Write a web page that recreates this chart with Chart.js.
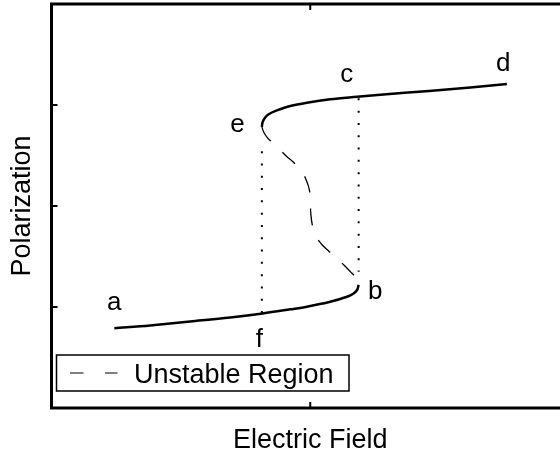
<!DOCTYPE html>
<html>
<head>
<meta charset="utf-8">
<script src="https://cdn.jsdelivr.net/npm/chart.js@4.4.1/dist/chart.umd.min.js"></script>
<style>
  html, body { margin: 0; padding: 0; background: #fff; overflow: hidden; }
</style>
</head>
<body>
<canvas id="chart" width="569" height="460"></canvas>
<script>
// S-shaped polarization curve (axis units: x 0..2, y 0..4)
const lowerX = [0.243, 0.381, 0.536, 0.691, 0.816, 0.923, 0.987, 1.077, 1.142, 1.166, 1.181, 1.187];
const lowerY = [0.789, 0.817, 0.856, 0.896, 0.936, 0.977, 1.003, 1.052, 1.102, 1.131, 1.168, 1.218];

const upperX = [0.813, 0.816, 0.826, 0.841, 0.871, 0.923, 0.987, 1.077, 1.181, 1.271, 1.459, 1.619, 1.760];
const upperY = [2.782, 2.832, 2.876, 2.911, 2.946, 2.990, 3.023, 3.057, 3.082, 3.102, 3.139, 3.173, 3.208];

// unstable middle branch, from e down to b
const unstableX = [0.813, 0.822, 0.837, 0.858, 0.884, 0.910, 0.932, 0.951, 0.971, 0.987, 0.996, 1.000,
                   1.001, 1.002, 1.008, 1.023, 1.043, 1.067, 1.109, 1.132, 1.155, 1.174, 1.187];
const unstableY = [2.782, 2.723, 2.668, 2.621, 2.554, 2.488, 2.441, 2.389, 2.327, 2.241, 2.168, 2.092,
                   2.010, 1.928, 1.812, 1.696, 1.624, 1.564, 1.465, 1.411, 1.350, 1.297, 1.218];

// vertical jump lines e->f and b->c
const jumpLeftX = [0.813, 0.813];
const jumpLeftY = [0.94, 2.637];
const jumpRightX = [1.187, 1.187];
const jumpRightY = [3.066, 1.35];

const pointNames = ['a', 'b', 'c', 'd', 'e', 'f'];
const pointNameX = [0.242, 1.251, 1.141, 1.746, 0.719, 0.803];
const pointNameY = [0.970, 1.079, 3.231, 3.340, 2.736, 0.607];

const xTicks = [1];
const yTicks = [1, 2, 3];

const FONT = '"Liberation Sans", Arial, Helvetica, sans-serif';

const toPoints = (xs, ys) => xs.map((x, i) => ({ x: x, y: ys[i] }));

// frame, inward ticks, point names and legend box
const decorations = {
  id: 'decorations',
  afterDraw(chart) {
    const ctx = chart.ctx;
    const area = chart.chartArea;
    const xs = chart.scales.x;
    const ys = chart.scales.y;

    ctx.save();
    ctx.strokeStyle = '#000';
    ctx.lineWidth = 2;
    xTicks.forEach(v => {
      const px = xs.getPixelForValue(v);
      ctx.beginPath();
      ctx.moveTo(px, area.bottom);
      ctx.lineTo(px, area.bottom - 6);
      ctx.moveTo(px, area.top);
      ctx.lineTo(px, area.top + 6);
      ctx.stroke();
    });
    yTicks.forEach(v => {
      const py = ys.getPixelForValue(v);
      ctx.beginPath();
      ctx.moveTo(area.left, py);
      ctx.lineTo(area.left + 6, py);
      ctx.moveTo(area.right, py);
      ctx.lineTo(area.right - 6, py);
      ctx.stroke();
    });

    ctx.lineWidth = 3;
    ctx.strokeRect(area.left, area.top, area.right - area.left, area.bottom - area.top);

    ctx.fillStyle = '#000';
    ctx.font = '26px ' + FONT;
    ctx.textAlign = 'center';
    ctx.textBaseline = 'alphabetic';
    pointNames.forEach((name, i) => {
      ctx.fillText(name, xs.getPixelForValue(pointNameX[i]), ys.getPixelForValue(pointNameY[i]));
    });

    // legend
    const lx = 56.5, ly = 355, lw = 292.5, lh = 36;
    ctx.fillStyle = '#fff';
    ctx.fillRect(lx, ly, lw, lh);
    ctx.lineWidth = 1.5;
    ctx.strokeRect(lx, ly, lw, lh);
    ctx.lineWidth = 1.2;
    ctx.setLineDash([13.5, 21.5]);
    ctx.beginPath();
    ctx.moveTo(70, 373);
    ctx.lineTo(117.5, 373);
    ctx.stroke();
    ctx.setLineDash([]);
    ctx.fillStyle = '#000';
    ctx.font = '27px ' + FONT;
    ctx.textAlign = 'left';
    ctx.fillText(chart.data.datasets[2].label, 134, 383);
    ctx.restore();
  }
};

const solid = { borderColor: '#000', borderWidth: 2.5, pointRadius: 0, showLine: true, tension: 0.35, fill: false };

new Chart(document.getElementById('chart'), {
  type: 'scatter',
  data: {
    datasets: [
      Object.assign({ label: 'Stable lower', data: toPoints(lowerX, lowerY) }, solid),
      Object.assign({ label: 'Stable upper', data: toPoints(upperX, upperY) }, solid),
      {
        label: 'Unstable Region',
        data: toPoints(unstableX, unstableY),
        borderColor: '#000', borderWidth: 1.3, borderDash: [17, 16],
        pointRadius: 0, showLine: true, tension: 0.35, fill: false
      },
      {
        label: 'Jump e-f',
        data: toPoints(jumpLeftX, jumpLeftY),
        borderColor: '#000', borderWidth: 2, borderDash: [2, 10.3],
        pointRadius: 0, showLine: true, tension: 0
      },
      {
        label: 'Jump b-c',
        data: toPoints(jumpRightX, jumpRightY),
        borderColor: '#000', borderWidth: 2, borderDash: [2, 10.3],
        pointRadius: 0, showLine: true, tension: 0
      }
    ]
  },
  options: {
    responsive: false,
    animation: false,
    layout: { padding: { top: 4, right: 0, bottom: 0, left: 0 } },
    plugins: { legend: { display: false }, tooltip: { enabled: false } },
    scales: {
      x: {
        type: 'linear', min: 0, max: 2,
        ticks: { display: false },
        grid: { display: false },
        border: { display: false },
        title: {
          display: true, text: 'Electric Field', color: '#000',
          font: { family: FONT, size: 27 }, padding: { top: 17, bottom: 3.2 }
        },
        afterFit(scale) { scale.height = 52; }
      },
      y: {
        type: 'linear', min: 0, max: 4,
        ticks: { display: false },
        grid: { display: false },
        border: { display: false },
        title: {
          display: true, text: 'Polarization', color: '#000',
          font: { family: FONT, size: 27 }, padding: { top: 6.4, bottom: 10 }
        },
        afterFit(scale) { scale.width = 51.5; }
      }
    }
  },
  plugins: [decorations]
});
</script>
</body>
</html>
